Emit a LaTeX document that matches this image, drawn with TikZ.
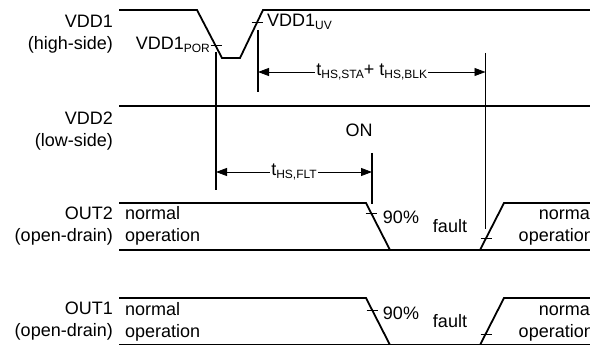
\documentclass[tikz,border=0pt]{standalone}
\usepackage{fontspec}
\setmainfont{Liberation Sans}
\usetikzlibrary{positioning, arrows.meta}
\newcommand{\sbs}[1]{\raisebox{-3pt}{\fontsize{12}{12}\selectfont #1}}

\begin{document}
\begin{tikzpicture}[x=1pt, y=-1pt, >={Triangle[length=11pt, width=8pt]},
	wave/.style={line width=1.8pt, line join=miter},
	marker/.style={line width=1.5pt},
	tickmark/.style={line width=0.8pt},
	span/.style={<->, line width=0.8pt},
	lbl/.style={font=\fontsize{18}{22}\selectfont, inner sep=0pt},
	sig/.style={lbl, align=right, anchor=east},
	state/.style={lbl, align=left, anchor=west},
	stateR/.style={lbl, align=right, anchor=east}]
	
	\useasboundingbox (0,0) rectangle (590,345);
	
	% Draw signal names
	\node (vdd1) [sig] at (113,34) {VDD1\\(high-side)};
	\node (vdd2) [sig] at (113,131) {VDD2\\(low-side)};
	\node (out2) [sig] at (113,226) {OUT2\\(open-drain)};
	\node (out1) [sig] at (113,321.5) {OUT1\\(open-drain)};
	
	% Draw waveforms
	\draw[wave] (119,10) -- (197,10) -- (222,58) -- (240,58) -- (263,10) -- (592,10);
	\draw[wave] (119,106) -- (592,106);
	\draw[wave] (119,203) -- (366,203) -- (390,250);
	\draw[wave] (480,250) -- (504,203) -- (592,203);
	\draw[wave] (119,250) -- (592,250);
	\draw[wave] (119,298) -- (366,298) -- (390,345);
	\draw[wave] (480,345) -- (504,298) -- (592,298);
	\draw[wave] (119,345) -- (592,345);
	
	% Draw threshold ticks
	\coordinate (por) at (216,45);
	\coordinate (uv) at (257,22);
	\coordinate (on2) at (371,213);
	\coordinate (off2) at (486,238);
	\coordinate (on1) at (372,310);
	\coordinate (off1) at (486,334);
	\foreach \t in {por, uv, on2, off2, on1, off1}
		\draw[tickmark] ([xshift=-5.5pt]\t) -- ([xshift=5.5pt]\t);
	
	% Draw markers
	\coordinate (porTop) at (216,52);
	\coordinate (porBot) at (216,190);
	\coordinate (uvTop) at (258,30);
	\coordinate (uvBot) at (258,92);
	\coordinate (blkTop) at (485.5,53);
	\coordinate (blkBot) at (485.5,229);
	\coordinate (fltTop) at (372,153);
	\coordinate (fltBot) at (372,204);
	\draw[marker] (porTop) -- (porBot);
	\draw[marker] (uvTop) -- (uvBot);
	\draw[marker] (blkTop) -- (blkBot);
	\draw[marker] (fltTop) -- (fltBot);
	
	% Draw timing arrows
	\coordinate (staL) at (258,72);
	\coordinate (staR) at (485.5,72);
	\coordinate (fltL) at (216,172);
	\coordinate (fltR) at (372,172);
	\draw[span] (staL) -- node (sta) [lbl, fill=white, inner xsep=1pt] {t\sbs{HS,STA}+ t\sbs{HS,BLK}} (staR);
	\draw[span] (fltL) -- node (flt) [lbl, fill=white, inner xsep=1pt] {t\sbs{HS,FLT}} (fltR);
	
	% Draw level labels
	\node (porlbl) [lbl, anchor=east] at (210,45) {VDD1\sbs{POR}};
	\node (uvlbl) [lbl, anchor=west] at (267,22) {VDD1\sbs{UV}};
	\node (on) [lbl] at (359,130) {ON};
	\node (pct2) [lbl] at (401,217) {90\%};
	\node (pct1) [lbl] at (401,313) {90\%};
	\node (fault2) [lbl] at (450,226) {fault};
	\node (fault1) [lbl] at (450,321) {fault};
	
	% Draw state labels
	\node (norm2) [state] at (125,226) {normal\\operation};
	\node (norm1) [state] at (125,321.5) {normal\\operation};
	\node (back2) [stateR] at (594,226) {normal\\operation};
	\node (back1) [stateR] at (594,321.5) {normal\\operation};
	
\end{tikzpicture}
\end{document}
